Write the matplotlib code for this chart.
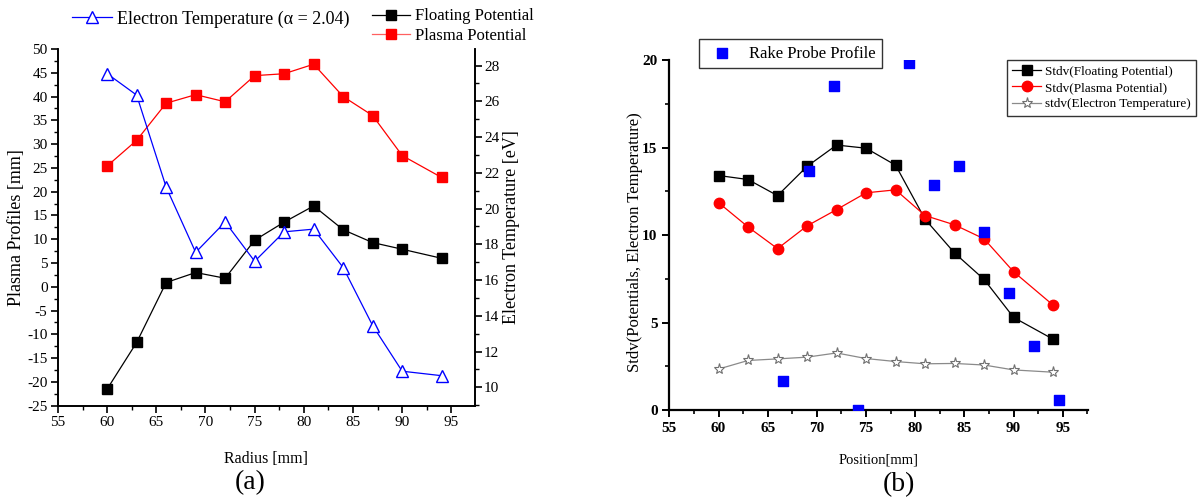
import matplotlib
matplotlib.use("Agg")
import matplotlib.pyplot as plt
from matplotlib.ticker import MultipleLocator
from matplotlib.lines import Line2D

plt.rcParams['font.family'] = ['Liberation Serif', 'DejaVu Serif']
plt.rcParams['axes.unicode_minus'] = False

# ---- panel (a): radial profiles ----
radius = [60, 63, 66, 69, 72, 75, 78, 81, 84, 87, 90, 94]
plasma_pot = [25.4, 30.8, 38.6, 40.4, 38.9, 44.4, 44.8, 46.8, 40.0, 36.0, 27.6, 23.0]
floating_pot = [-21.5, -11.7, 0.9, 3.0, 1.8, 9.8, 13.6, 17.0, 12.0, 9.3, 7.9, 6.0]
electron_temp = [27.55, 26.35, 21.2, 17.55, 19.25, 17.05, 18.7, 18.85, 16.7, 13.45, 10.9, 10.65]

# ---- panel (b): standard deviations ----
position = [60, 63, 66, 69, 72, 75, 78, 81, 84, 87, 90, 94]
stdv_floating = [13.4, 13.17, 12.25, 13.92, 15.14, 14.96, 13.99, 10.9, 8.97, 7.46, 5.29, 4.05]
stdv_plasma = [11.85, 10.46, 9.22, 10.52, 11.45, 12.41, 12.58, 11.11, 10.58, 9.78, 7.9, 6.0]
stdv_te = [2.34, 2.83, 2.92, 3.02, 3.26, 2.94, 2.77, 2.64, 2.66, 2.57, 2.29, 2.16]
rake_pos = [66.6, 69.2, 71.75, 74.2, 79.4, 81.9, 84.45, 87.0, 89.55, 92.1, 94.65]
rake_val = [1.67, 13.65, 18.5, 0.0, 19.85, 12.83, 13.93, 10.18, 6.69, 3.67, 0.56]

fig = plt.figure(figsize=(12.03, 5.0), dpi=100)

# ================= (a) =================
ax = fig.add_axes([0.0482, 0.1886, 0.3466, 0.7134])
ax.plot(radius, floating_pot, color='black', lw=0.9, marker='s', ms=6.5,
        mfc='black', mec='black')
ax.plot(radius, plasma_pot, color='red', lw=0.9, marker='s', ms=6.5,
        mfc='red', mec='red')
ax.set_xlim(55, 97.4)
ax.set_ylim(-25, 50)
ax.xaxis.set_major_locator(MultipleLocator(5))
ax.xaxis.set_minor_locator(MultipleLocator(2.5))
ax.yaxis.set_major_locator(MultipleLocator(5))
ax.yaxis.set_minor_locator(MultipleLocator(2.5))
ax.spines['top'].set_visible(False)
ax.tick_params(which='major', direction='out', length=5, width=1.2, labelsize=11, pad=2.5)
ax.tick_params(which='minor', direction='out', length=3, width=1.0)
ax.set_xlabel('Radius [mm]', fontsize=11.5)
ax.set_ylabel('Plasma Profiles [mm]', fontsize=13)
ax.xaxis.set_label_coords(0.5, -0.127)
ax.yaxis.set_label_coords(-0.080, 0.5)

ax2 = ax.twinx()
ax2.plot(radius, electron_temp, color='blue', lw=0.9, marker='^', ms=8,
         mfc='white', mec='blue', mew=1.0)
ax2.set_ylim(8.97, 28.93)
ax2.yaxis.set_major_locator(MultipleLocator(2))
ax2.yaxis.set_minor_locator(MultipleLocator(1))
ax2.spines['top'].set_visible(False)
ax2.tick_params(which='major', direction='out', length=5, width=1.2, labelsize=11, pad=1.5)
ax2.tick_params(which='minor', direction='out', length=3, width=1.0)
ax2.set_ylabel('Electron Temperature [eV]', fontsize=13)
ax2.yaxis.set_label_coords(1.068, 0.5)
for a in (ax, ax2):
    for s in a.spines.values():
        s.set_linewidth(1.2)

h_te = Line2D([], [], color='blue', lw=0.9, marker='^', ms=8, mfc='white', mec='blue')
h_fp = Line2D([], [], color='black', lw=0.9, marker='s', ms=6.5, mfc='black', mec='black')
h_pp = Line2D([], [], color='#ff6060', lw=0.9, marker='s', ms=6.5, mfc='red', mec='red')
fig.legend([h_te], ['Electron Temperature (α = 2.04)'], loc='center left',
           bbox_to_anchor=(0.060, 0.962), frameon=False, fontsize=13,
           handlelength=2.2, handletextpad=0.3, borderpad=0.0, borderaxespad=0.0)
fig.legend([h_fp, h_pp], ['Floating Potential', 'Plasma Potential'], loc='center left',
           bbox_to_anchor=(0.309, 0.948), frameon=False, fontsize=12,
           handlelength=2.3, handletextpad=0.3, labelspacing=0.2,
           borderpad=0.0, borderaxespad=0.0)

fig.text(250 / 1203, 1 - 483 / 500, '(a)', fontsize=20, ha='center', va='center')

# ================= (b) =================
bx = fig.add_axes([0.5564, 0.18, 0.3483, 0.70])
bx.plot(position, stdv_floating, color='black', lw=0.9, marker='s', ms=6.5,
        mfc='black', mec='black', label='Stdv(Floating Potential)', zorder=3)
bx.plot(position, stdv_plasma, color='red', lw=0.9, marker='o', ms=7.5,
        mfc='red', mec='red', label='Stdv(Plasma Potential)', zorder=3)
bx.plot(position, stdv_te, color='#8a8a8a', lw=0.9, marker='*', ms=8,
        mfc='white', mec='#707070', mew=0.8, label='stdv(Electron Temperature)', zorder=3)
rake = bx.scatter(rake_pos, rake_val, marker='s', s=42, color='blue',
                  label='Rake Probe Profile', zorder=4, clip_on=True)
bx.set_xlim(55, 97.6)
bx.set_ylim(0, 20)
bx.xaxis.set_major_locator(MultipleLocator(5))
bx.xaxis.set_minor_locator(MultipleLocator(2.5))
bx.yaxis.set_major_locator(MultipleLocator(5))
bx.yaxis.set_minor_locator(MultipleLocator(2.5))
bx.spines['top'].set_visible(False)
bx.spines['right'].set_visible(False)
for s in ('left', 'bottom'):
    bx.spines[s].set_linewidth(1.6)
bx.tick_params(which='major', direction='out', length=5, width=1.4, labelsize=11)
bx.tick_params(which='minor', direction='out', length=3, width=1.2)
for lab in bx.get_xticklabels() + bx.get_yticklabels():
    lab.set_fontweight('bold')
bx.set_xlabel('Position[mm]', fontsize=10.5)
bx.set_ylabel('Stdv(Potentials, Electron Temperature)', fontsize=12)
bx.xaxis.set_label_coords(0.5, -0.123)
bx.yaxis.set_label_coords(-0.062, 0.48)

lines = bx.get_lines()
leg1 = fig.legend(lines, [l.get_label() for l in lines], loc='upper left',
                  bbox_to_anchor=(1007 / 1203, 1 - 60 / 500), fontsize=9.5,
                  frameon=True, fancybox=False, edgecolor='black',
                  handlelength=2.2, handletextpad=0.3, borderpad=0.4,
                  labelspacing=0.32, borderaxespad=0.0)
leg1.get_frame().set_linewidth(1.0)
leg2 = fig.legend([rake], ['Rake Probe Profile'], loc='upper left',
                  bbox_to_anchor=(699 / 1203, 1 - 39 / 500), fontsize=12,
                  frameon=True, fancybox=False, edgecolor='black',
                  handletextpad=0.6, borderpad=0.4, scatterpoints=1,
                  borderaxespad=0.0)
leg2.get_frame().set_linewidth(1.0)

fig.text(899 / 1203, 1 - 485 / 500, '(b)', fontsize=20, ha='center', va='center')

fig.savefig('out.png', dpi=100)
